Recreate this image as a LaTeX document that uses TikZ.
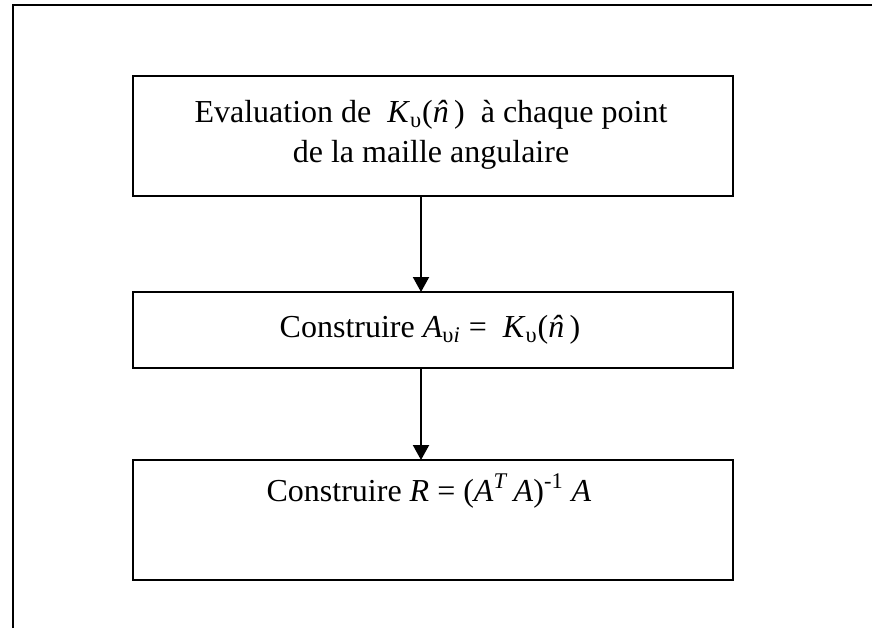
\documentclass[tikz,border=0pt]{standalone}
\usepackage{fontspec}
\setmainfont{Liberation Serif}
\usetikzlibrary{arrows.meta}
\newcommand{\ups}{\textsubscript{υ}}
% italic n with a circumflex set over it
\newcommand{\nhat}{{\itshape\ooalign{n\cr\hidewidth ˆ\hidewidth\cr}}}
\begin{document}
\begin{tikzpicture}[x=0.5pt,y=-0.5pt,
  stepbox/.style={draw=black,line width=1pt,minimum width=300pt,inner sep=0pt,outer sep=0pt},
  label/.style={anchor=base,inner sep=0pt,font=\fontsize{16}{20}\selectfont},
  flow/.style={line width=1pt,-{Triangle[width=8pt,length=7.5pt]}}]
  \useasboundingbox (0,0) rectangle (872,628);
  % outer frame (top and left edges)
  \coordinate (ftl) at (13,4.5);
  \coordinate (ftr) at (872,4.5);
  \coordinate (fbl) at (13,628);
  \draw[line width=1pt] (fbl) -- (ftl) -- (ftr);
  % boxes
  \node[stepbox,minimum height=60pt] (b1) at (433,136) {};
  \node[stepbox,minimum height=38pt] (b2) at (433,330) {};
  \node[stepbox,minimum height=60pt] (b3) at (433,520) {};
  % texts
  \node[label] (t1a) at (431,122) {Evaluation de \ \textit{K}\ups(\nhat\,) \ à chaque point};
  \node[label] (t1b) at (431,162) {de la maille angulaire};
  \node[label] (t2) at (430,337) {Construire \textit{A}\textsubscript{υ\textit{i}} = \ \textit{K}\ups(\nhat\,)};
  \node[label] (t3) at (429,501) {Construire \textit{R} = (\textit{A}\textsuperscript{\textit{T}}\,\textit{A})\textsuperscript{-1} \textit{A}};
  % connectors
  \draw[flow] (b1.south -| 421,0) -- (b2.north -| 421,0);
  \draw[flow] (b2.south -| 421,0) -- (b3.north -| 421,0);
\end{tikzpicture}
\end{document}
